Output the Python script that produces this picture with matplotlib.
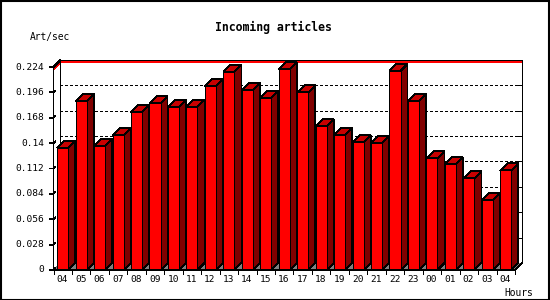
import matplotlib
matplotlib.use("Agg")
import matplotlib.pyplot as plt
from matplotlib.patches import Polygon, Rectangle
import numpy as np

hours = ['04', '05', '06', '07', '08', '09', '10', '11', '12', '13', '14', '15', '16',
         '17', '18', '19', '20', '21', '22', '23', '00', '01', '02', '03', '04']
values = [0.135, 0.1865, 0.137, 0.149, 0.174, 0.184, 0.180, 0.180, 0.2027, 0.2185,
          0.1987, 0.190, 0.2215, 0.196, 0.1586, 0.1487, 0.141, 0.140, 0.2196, 0.1865,
          0.1233, 0.1166, 0.1012, 0.0769, 0.110]
yticks = [0, 0.028, 0.056, 0.084, 0.112, 0.14, 0.168, 0.196, 0.224]
ytick_labels = ['0', '0.028', '0.056', '0.084', '0.112', '0.14', '0.168', '0.196', '0.224']
title = 'Incoming articles'
ylabel = 'Art/sec'
xlabel = 'Hours'

W, H, DPI = 550, 300, 100
DEPTH_X, DEPTH_Y = 7, 7
FRONT = '#ff0000'
TOP = '#c80000'
SIDE = '#800000'
FLOOR = '#808080'
LW = 0.55
MONO = ['DejaVu Sans Mono']

plt.rcParams['lines.scale_dashes'] = False

fig = plt.figure(figsize=(W / DPI, H / DPI), dpi=DPI)
fig.patch.set_facecolor('white')

# axes placement in pixels (front plane)
x0, x1 = 53.5, 515.0
y_bottom, y_top = 270.0, 67.0
ax = fig.add_axes([x0 / W, (H - y_bottom) / H, (x1 - x0) / W, (y_bottom - y_top) / H])
n = len(values)
ax.set_xlim(0, n)
ax.set_ylim(0, yticks[-1])
ax.axis('off')

fig.canvas.draw()
T = ax.transData
Tinv = T.inverted()


def back(x, y):
    px = T.transform((x, y))
    return tuple(Tinv.transform((px[0] + DEPTH_X, px[1] + DEPTH_Y)))


def poly(pts, fc, ec='black', z=2, lw=LW):
    p = Polygon(pts, closed=True, facecolor=fc, edgecolor=ec, linewidth=lw,
                transform=T, clip_on=False, zorder=z, antialiased=False)
    ax.add_patch(p)


def line(xs, ys, color='black', z=3, lw=LW, ls='-'):
    ax.plot(xs, ys, color=color, lw=lw, ls=ls, transform=T, clip_on=False,
            zorder=z, antialiased=False, solid_capstyle='butt')


ymax = yticks[-1]

# back wall
bl, tl, tr, br = back(0, 0), back(0, ymax), back(n, ymax), back(n, 0)
poly([bl, tl, tr, br], 'white', ec='none', z=0)

# dashed grid on back wall
for t in yticks[1:-1]:
    a, b = back(0, t), back(n, t)
    ax.plot([a[0], b[0]], [a[1], b[1]], color='black', lw=LW, transform=T,
            clip_on=False, zorder=0.5, dashes=(1.6, 1.6), antialiased=False)

# max line (red)
vmax = max(values)
a, b = back(0, vmax), back(n, vmax)
line([0, a[0], b[0]], [vmax, a[1], b[1]], color='red', z=0.6)

# back wall edges
line([bl[0], tl[0], tr[0], br[0]], [bl[1], tl[1], tr[1], br[1]], z=0.7)
# right-side small ticks on back wall
for t in yticks[1:-1]:
    p = back(n, t)
    q = Tinv.transform(T.transform(p) - np.array([4, 0]))
    line([q[0], p[0]], [p[1], p[1]], z=0.7)

# floor
poly([(0, 0), bl, br, (n, 0)], FLOOR, ec='none', z=1)

# bars
bw = 0.6
for i, v in enumerate(values):
    xl = i + 0.5 - bw / 2
    xr = i + 0.5 + bw / 2
    # side
    poly([(xr, 0), (xr, v), back(xr, v), back(xr, 0)], SIDE, z=2)
    # top
    poly([(xl, v), back(xl, v), back(xr, v), (xr, v)], TOP, z=2)
    # front
    poly([(xl, 0), (xl, v), (xr, v), (xr, 0)], FRONT, z=2.1)

# front axes
line([0, 0, tl[0]], [0, ymax, tl[1]], z=3)
line([0, n, br[0]], [0, 0, br[1]], z=3)

# y ticks and labels
for t, lab in zip(yticks, ytick_labels):
    p = T.transform((0, t))
    q = Tinv.transform(p + np.array([-4, 0]))
    r = Tinv.transform(p + np.array([2, 2]))
    line([q[0], 0, r[0]], [t, t, r[1]], z=3)
    ax.annotate(lab, xy=(0, t), xycoords='data', xytext=(-9, 0), textcoords='offset pixels',
                ha='right', va='center', fontsize=6.8, family=MONO, annotation_clip=False)

# x ticks and labels
for i in range(n + 1):
    p = T.transform((i, 0))
    q = Tinv.transform(p + np.array([0, -4]))
    line([i, i], [0, q[1]], z=3)
for i, lab in enumerate(hours):
    ax.annotate(lab, xy=(i + 0.5 - 0.02, 0), xycoords='data', xytext=(0, -10),
                textcoords='offset pixels', ha='center', va='center', fontsize=6.8,
                family=MONO, annotation_clip=False)

# texts
fig.text(273.5 / W, 1 - 27 / H, title, ha='center', va='center', fontsize=8.3,
         family=MONO, fontweight='bold')
fig.text(30 / W, 1 - 37 / H, ylabel, ha='left', va='center', fontsize=6.9, family=MONO)
fig.text(533 / W, 1 - 292.5 / H, xlabel, ha='right', va='center', fontsize=6.9, family=MONO)

# border
fig.patches.append(Rectangle((0.5 / W, 0.5 / H), (W - 1.5) / W, (H - 1.5) / H,
                             transform=fig.transFigure, fill=False, edgecolor='black',
                             linewidth=1.5, figure=fig))

fig.savefig('out.png', dpi=DPI)
